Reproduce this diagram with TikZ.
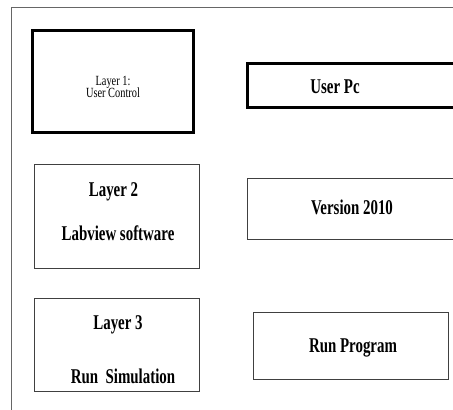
\documentclass[tikz,border=0pt]{standalone}
\usepackage{fontspec}
\setmainfont{Liberation Serif}
\newfontfamily\narrowfont[FakeStretch=0.71]{Liberation Serif}
\newfontfamily\smallfont[FakeStretch=0.74]{Liberation Serif}
\usetikzlibrary{positioning}

\begin{document}
\begin{tikzpicture}[
        x=1pt, y=-1pt,
        frame/.style={draw=black!60, line width=0.8pt},
        heavybox/.style={rectangle, draw=black, line width=3pt, inner sep=0pt},
        thinbox/.style={rectangle, draw=black!75, line width=1pt, inner sep=0pt},
        bigtxt/.style={font=\narrowfont\fontsize{21}{23}\selectfont\bfseries, anchor=base, inner sep=0pt},
        smalltxt/.style={font=\smallfont\fontsize{14}{15}\selectfont, anchor=base, inner sep=0pt}
    ]
    \useasboundingbox (0,0) rectangle (453,410);

    % Frame
    \coordinate (ftop) at (453,7);
    \coordinate (fcorner) at (11,7);
    \coordinate (fbottom) at (11,410);
    \draw[frame] (ftop) -- (fcorner) -- (fbottom);

    % Boxes
    \node[heavybox, minimum width=161pt, minimum height=102pt] (l1) at (112.5,81) {};
    \node[heavybox, minimum width=208pt, minimum height=44pt] (pc) at (351,85) {};
    \node[thinbox, minimum width=165pt, minimum height=104pt] (l2) at (116.5,216) {};
    \node[thinbox, minimum width=208pt, minimum height=61pt] (ver) at (351,208.5) {};
    \node[thinbox, minimum width=165pt, minimum height=93pt] (l3) at (116.5,344.5) {};
    \node[thinbox, minimum width=195pt, minimum height=67pt] (run) at (350.5,345.5) {};

    % Texts
    \node[smalltxt] (l1a) at (113,85) {Layer 1:};
    \node[smalltxt] (l1b) at (113,97.5) {User Control};
    \node[bigtxt] (pct) at (335,93) {User Pc};
    \node[bigtxt] (l2a) at (113.5,196) {Layer 2};
    \node[bigtxt] (l2b) at (118,240) {Labview software};
    \node[bigtxt] (vert) at (352,214) {Version 2010};
    \node[bigtxt] (l3a) at (118,329) {Layer 3};
    \node[bigtxt] (l3b) at (123,383) {Run\ \ Simulation};
    \node[bigtxt] (runt) at (353,352) {Run Program};

\end{tikzpicture}
\end{document}
